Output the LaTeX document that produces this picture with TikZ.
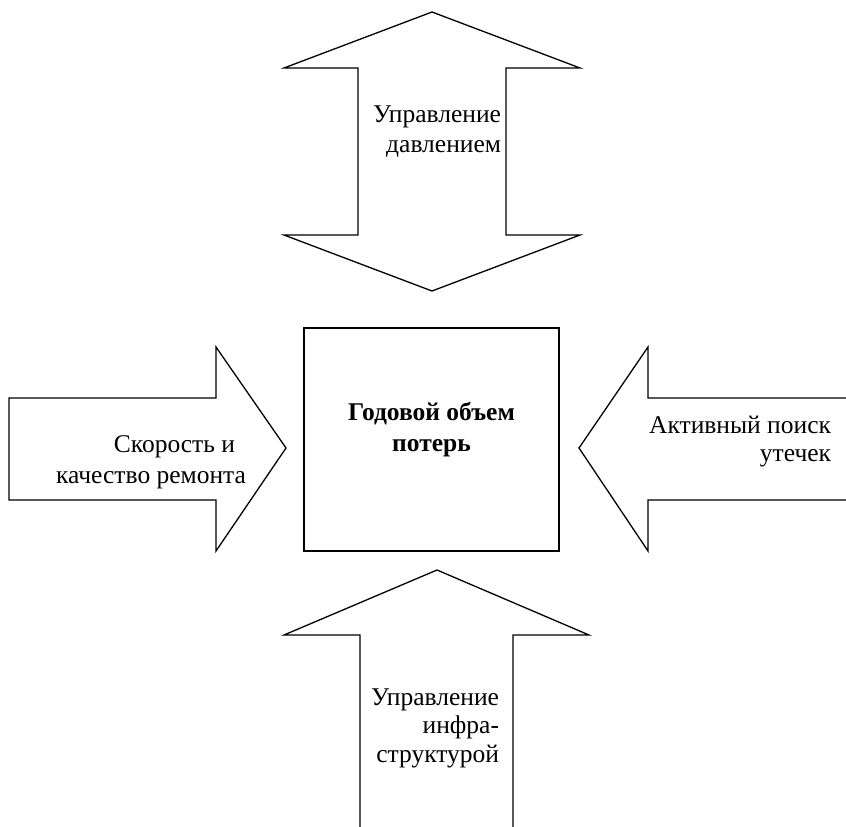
\documentclass[tikz,border=0pt]{standalone}
\usepackage{fontspec}
\setmainfont{Liberation Serif}
\newfontfamily\tnr{Liberation Serif}
\tikzset{
  shp/.style={draw=black, line width=1.3pt, line join=miter, fill=white},
  lbl/.style={inner sep=0pt, outer sep=0pt, font=\tnr\fontsize{25.5}{30}\selectfont}
}
\begin{document}
\begin{tikzpicture}[x=1pt,y=-1pt]
\useasboundingbox (0,0) rectangle (846,827);
\clip (0,0) rectangle (846,827);
% top double arrow
\draw[shp] (432,12) -- (580,68) -- (506,68) -- (506,235) -- (580,235) -- (432,291)
  -- (284,235) -- (358,235) -- (358,68) -- (284,68) -- cycle;
% left arrow
\draw[shp] (9,398) -- (216,398) -- (216,347) -- (286,448) -- (216,551) -- (216,500) -- (9,500) -- cycle;
% right arrow
\draw[shp] (579,448) -- (648,347) -- (648,398) -- (860,398) -- (860,500) -- (648,500) -- (648,551) -- cycle;
% bottom arrow
\draw[shp] (437,570) -- (589,635) -- (513,635) -- (513,840) -- (360,840) -- (360,635) -- (284,635) -- cycle;
% center box
\draw[shp] (304,328) rectangle (559,551);
% labels
\node[lbl, anchor=base east] (tp) at (501,122)
  {\begin{tabular}[t]{@{}r@{}}Управление\\давлением\end{tabular}};
\node[lbl, anchor=base east, font=\tnr\fontsize{25.5}{31}\selectfont] (lt) at (246,452)
  {\begin{tabular}[t]{@{}r@{}}Скорость и\hspace*{11pt}\\качество ремонта\end{tabular}};
\node[lbl, anchor=base east, font=\tnr\fontsize{25.5}{28}\selectfont] (rt) at (831,433)
  {\begin{tabular}[t]{@{}r@{}}Активный поиск\\утечек\end{tabular}};
\node[lbl, anchor=base east, font=\tnr\fontsize{25.5}{28.5}\selectfont] (bt) at (499,705)
  {\begin{tabular}[t]{@{}r@{}}Управление\\инфра-\\структурой\end{tabular}};
\node[lbl, anchor=base, font=\tnr\fontsize{25.5}{31}\selectfont\bfseries] (ct) at (431.5,420)
  {\begin{tabular}[t]{@{}c@{}}Годовой объем\\потерь\end{tabular}};
\end{tikzpicture}
\end{document}
